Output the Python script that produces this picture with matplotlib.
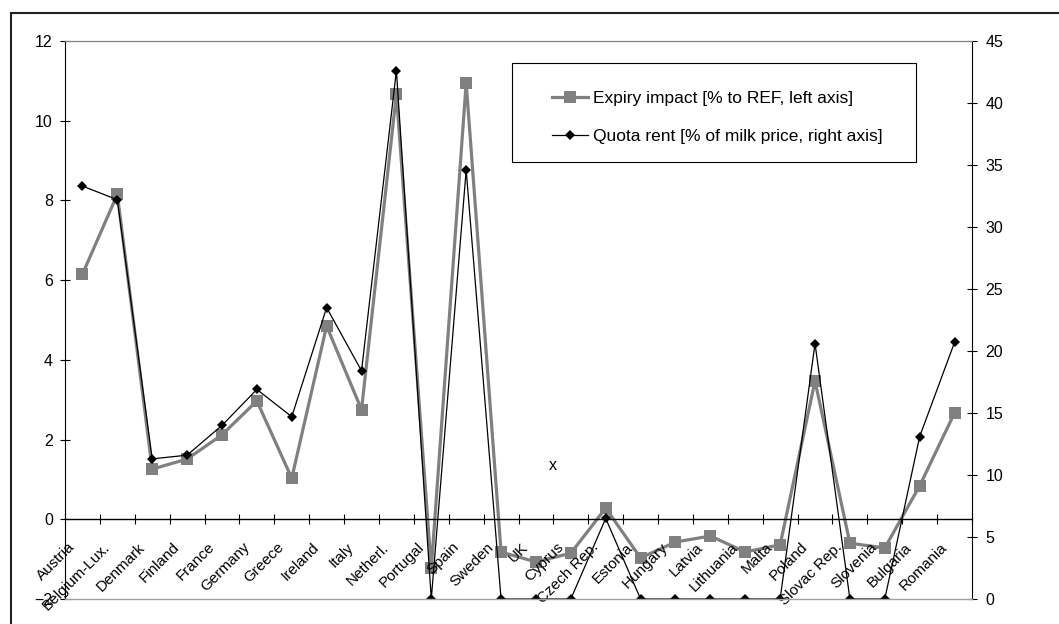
#expiry_quota_rent.py
#
#Expiry impact of milk quotas vs quota rent per member state, two y axes

import numpy as np
import matplotlib
matplotlib.use('Agg')
import matplotlib.pyplot as plt
from matplotlib.patches import Rectangle
from matplotlib.transforms import ScaledTranslation

#==================================================================================================
#			DATA
#==================================================================================================
countries = ["Austria", "Belgium-Lux.", "Denmark", "Finland", "France", "Germany", "Greece",
             "Ireland", "Italy", "Netherl.", "Portugal", "Spain", "Sweden", "UK", "Cyprus",
             "Czech Rep.", "Estonia", "Hungary", "Latvia", "Lithuania", "Malta", "Poland",
             "Slovac Rep.", "Slovenia", "Bulgaria", "Romania"]
#Expiry impact [% to REF] (left axis)
expiry = [6.15, 8.15, 1.26, 1.51, 2.12, 2.97, 1.03, 4.85, 2.75, 10.67, -1.23, 10.95, -0.82,
          -1.07, -0.85, 0.28, -0.97, -0.57, -0.42, -0.82, -0.64, 3.47, -0.60, -0.72, 0.84, 2.67]
#Quota rent [% of milk price] (right axis)
quota = [33.3, 32.2, 11.3, 11.6, 14.0, 16.9, 14.7, 23.5, 18.4, 42.6, 0.0, 34.6, 0.0, 0.0, 0.0,
         6.5, 0.0, 0.0, 0.0, 0.0, 0.0, 20.6, 0.0, 0.0, 13.1, 20.7]

lab_expiry = "Expiry impact [% to REF, left axis]"
lab_quota = "Quota rent [% of milk price, right axis]"

left_ticks = np.arange(-2, 13, 2)
right_ticks = np.arange(0, 46, 5)

#==================================================================================================
#			PLOT
#==================================================================================================
plt.rcParams['font.family'] = 'Liberation Sans'
fs = 11.5
W, H = 1059., 624.

fig = plt.figure( figsize=(10.59, 6.24), dpi=100 )
ax = fig.add_axes( [65/W, 1-599/H, (972-65)/W, (599-41)/H] )
ax2 = ax.twinx()

xc = np.arange( len(countries) ) + 0.5
l1, = ax.plot( xc, expiry, '-s', color='#808080', lw=2.3, ms=8.8, mew=0, label=lab_expiry )
l2, = ax2.plot( xc, quota, '-D', color='black', lw=0.9, ms=4.8, mew=0, label=lab_quota )

ax.set_xlim( 0, len(countries) )
ax.set_ylim( -2, 12 )
ax2.set_ylim( 0, 45 )
ax.set_yticks( left_ticks )
ax2.set_yticks( right_ticks )

#category axis crossing at 0
ax.spines['bottom'].set_position( ('data', 0) )
ax.spines['bottom'].set_linewidth( 1.0 )
ax.set_xticks( np.arange(0, len(countries)+1) )
ax.set_xticklabels( [] )
ax.tick_params( axis='x', direction='inout', length=7.5, width=0.8 )
ax.tick_params( axis='y', direction='inout', length=7.5, width=0.8, labelsize=fs, pad=5 )
ax2.tick_params( axis='y', direction='inout', length=7.5, width=0.8, labelsize=fs, pad=6 )

for a in (ax, ax2):
    a.spines['top'].set_color( '#808080' )
    a.spines['top'].set_linewidth( 0.8 )
ax2.spines['bottom'].set_color( '#a0a0a0' )
ax2.spines['bottom'].set_linewidth( 1.0 )
ax2.spines['left'].set_visible( False )
ax.spines['right'].set_visible( False )

#rotated country labels
off = ScaledTranslation( -7/72., -18.5/72., fig.dpi_scale_trans )
for x, name in zip( xc, countries ):
    ax.text( x, 0, name, transform=ax.transData + off, rotation=45, rotation_mode='anchor',
             ha='right', va='center', fontsize=11 )

#stray marker text
fig.text( 553/W, 1-466/H, "x", fontsize=fs, ha='center', va='center' )

#legend
fig.patches.append( Rectangle( (512/W, 1-162/H), (916-512)/W, (162-63)/H, transform=fig.transFigure,
                               fill=False, edgecolor='black', lw=0.8 ) )
fig.legend( [l1, l2], [lab_expiry, lab_quota], loc='center left', bbox_to_anchor=(552/W, 1-117.5/H),
            frameon=False, fontsize=12.5, borderpad=0, borderaxespad=0, handlelength=2.07,
            handletextpad=0.29, labelspacing=1.33 )

#outer frame
fig.patches.append( Rectangle( (11/W, -0.05), 1.1, 1-13/H+0.05, transform=fig.transFigure,
                               fill=False, edgecolor='#222222', lw=1.5 ) )

plt.savefig( 'out.png', dpi=100 )
